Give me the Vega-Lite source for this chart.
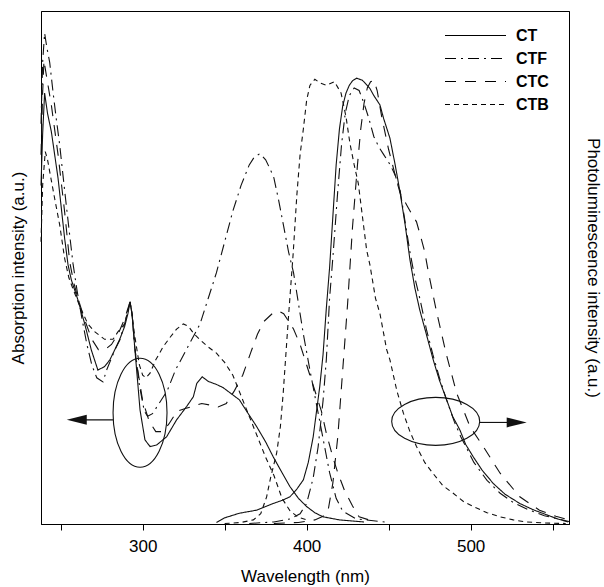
{
"$schema":"https://vega.github.io/schema/vega-lite/v6.json",
"width":528,"height":513,
"autosize":{"type":"none"},
"padding":{"left":41,"top":11,"right":35,"bottom":63},
"background":"white",
"config":{"font":"Liberation Sans","view":{"stroke":"#000","strokeWidth":1},
"axis":{"domainColor":"#000","tickColor":"#000","labelColor":"#000","titleColor":"#000","labelFontSize":17,"titleFontSize":17,"titleFontWeight":"normal","tickSize":6,"grid":false}},
"datasets":{
"abs":[
{"s":"CT","nm":238,"v":0.66},{"s":"CT","nm":239,"v":0.76},{"s":"CT","nm":240.2,"v":0.84},{"s":"CT","nm":242,"v":0.8},{"s":"CT","nm":244.3,"v":0.765},{"s":"CT","nm":248.4,"v":0.674},{"s":"CT","nm":252.4,"v":0.557},{"s":"CT","nm":254.5,"v":0.505},{"s":"CT","nm":256.5,"v":0.476},{"s":"CT","nm":260.5,"v":0.437},{"s":"CT","nm":264.6,"v":0.391},{"s":"CT","nm":268.7,"v":0.339},{"s":"CT","nm":272.7,"v":0.3},{"s":"CT","nm":276.8,"v":0.307},{"s":"CT","nm":280,"v":0.32},{"s":"CT","nm":282.9,"v":0.339},{"s":"CT","nm":286,"v":0.36},{"s":"CT","nm":289,"v":0.385},{"s":"CT","nm":291,"v":0.41},{"s":"CT","nm":292.3,"v":0.433},{"s":"CT","nm":293.5,"v":0.41},{"s":"CT","nm":295.3,"v":0.339},{"s":"CT","nm":298.4,"v":0.222},{"s":"CT","nm":301.4,"v":0.164},{"s":"CT","nm":304.5,"v":0.151},{"s":"CT","nm":308.5,"v":0.154},{"s":"CT","nm":314.6,"v":0.17},{"s":"CT","nm":320.7,"v":0.203},{"s":"CT","nm":326.8,"v":0.229},{"s":"CT","nm":330.9,"v":0.248},{"s":"CT","nm":333,"v":0.274},{"s":"CT","nm":336.3,"v":0.287},{"s":"CT","nm":340,"v":0.278},{"s":"CT","nm":345,"v":0.272},{"s":"CT","nm":349,"v":0.266},{"s":"CT","nm":354,"v":0.254},{"s":"CT","nm":359,"v":0.242},{"s":"CT","nm":364,"v":0.217},{"s":"CT","nm":369.5,"v":0.19},{"s":"CT","nm":375,"v":0.16},{"s":"CT","nm":379.6,"v":0.131},{"s":"CT","nm":385,"v":0.1},{"s":"CT","nm":389.8,"v":0.073},{"s":"CT","nm":395,"v":0.05},{"s":"CT","nm":400,"v":0.034},{"s":"CT","nm":405,"v":0.022},{"s":"CT","nm":410,"v":0.014},{"s":"CT","nm":420,"v":0.008},{"s":"CT","nm":435,"v":0.004},
{"s":"CTF","nm":238,"v":0.78},{"s":"CTF","nm":239,"v":0.9},{"s":"CTF","nm":240.2,"v":0.957},{"s":"CTF","nm":241.5,"v":0.93},{"s":"CTF","nm":243.3,"v":0.9},{"s":"CTF","nm":245.3,"v":0.843},{"s":"CTF","nm":247.3,"v":0.79},{"s":"CTF","nm":249.4,"v":0.739},{"s":"CTF","nm":251.4,"v":0.68},{"s":"CTF","nm":253.4,"v":0.622},{"s":"CTF","nm":255.5,"v":0.563},{"s":"CTF","nm":257.5,"v":0.508},{"s":"CTF","nm":260,"v":0.455},{"s":"CTF","nm":263,"v":0.4},{"s":"CTF","nm":266,"v":0.35},{"s":"CTF","nm":269,"v":0.31},{"s":"CTF","nm":272,"v":0.285},{"s":"CTF","nm":275.8,"v":0.277},{"s":"CTF","nm":278,"v":0.3},{"s":"CTF","nm":283,"v":0.339},{"s":"CTF","nm":286,"v":0.358},{"s":"CTF","nm":289,"v":0.39},{"s":"CTF","nm":292.3,"v":0.433},{"s":"CTF","nm":293.5,"v":0.41},{"s":"CTF","nm":295,"v":0.35},{"s":"CTF","nm":298,"v":0.27},{"s":"CTF","nm":301,"v":0.22},{"s":"CTF","nm":303,"v":0.21},{"s":"CTF","nm":306,"v":0.215},{"s":"CTF","nm":310,"v":0.235},{"s":"CTF","nm":315,"v":0.26},{"s":"CTF","nm":320,"v":0.3},{"s":"CTF","nm":325,"v":0.33},{"s":"CTF","nm":330,"v":0.36},{"s":"CTF","nm":335,"v":0.39},{"s":"CTF","nm":340,"v":0.44},{"s":"CTF","nm":345,"v":0.49},{"s":"CTF","nm":350,"v":0.55},{"s":"CTF","nm":355,"v":0.61},{"s":"CTF","nm":360,"v":0.66},{"s":"CTF","nm":365,"v":0.7},{"s":"CTF","nm":368,"v":0.715},{"s":"CTF","nm":371.5,"v":0.722},{"s":"CTF","nm":375,"v":0.71},{"s":"CTF","nm":378,"v":0.69},{"s":"CTF","nm":380,"v":0.675},{"s":"CTF","nm":383,"v":0.63},{"s":"CTF","nm":386,"v":0.58},{"s":"CTF","nm":389,"v":0.53},{"s":"CTF","nm":392,"v":0.49},{"s":"CTF","nm":395,"v":0.43},{"s":"CTF","nm":398,"v":0.37},{"s":"CTF","nm":402,"v":0.3},{"s":"CTF","nm":405,"v":0.25},{"s":"CTF","nm":408,"v":0.2},{"s":"CTF","nm":411,"v":0.15},{"s":"CTF","nm":414,"v":0.1},{"s":"CTF","nm":418,"v":0.05},{"s":"CTF","nm":422,"v":0.025},{"s":"CTF","nm":430,"v":0.01},{"s":"CTF","nm":450,"v":0.003},
{"s":"CTC","nm":238,"v":0.72},{"s":"CTC","nm":239,"v":0.84},{"s":"CTC","nm":239.8,"v":0.904},{"s":"CTC","nm":241.5,"v":0.87},{"s":"CTC","nm":244.3,"v":0.817},{"s":"CTC","nm":248.4,"v":0.72},{"s":"CTC","nm":252.4,"v":0.609},{"s":"CTC","nm":255.5,"v":0.511},{"s":"CTC","nm":258,"v":0.47},{"s":"CTC","nm":261,"v":0.435},{"s":"CTC","nm":265,"v":0.395},{"s":"CTC","nm":269,"v":0.36},{"s":"CTC","nm":273,"v":0.34},{"s":"CTC","nm":277,"v":0.34},{"s":"CTC","nm":281,"v":0.35},{"s":"CTC","nm":285,"v":0.37},{"s":"CTC","nm":289,"v":0.4},{"s":"CTC","nm":292.3,"v":0.433},{"s":"CTC","nm":293.5,"v":0.41},{"s":"CTC","nm":296,"v":0.32},{"s":"CTC","nm":300,"v":0.24},{"s":"CTC","nm":304,"v":0.2},{"s":"CTC","nm":308,"v":0.18},{"s":"CTC","nm":312,"v":0.18},{"s":"CTC","nm":316,"v":0.195},{"s":"CTC","nm":321,"v":0.22},{"s":"CTC","nm":326,"v":0.225},{"s":"CTC","nm":331,"v":0.23},{"s":"CTC","nm":336,"v":0.235},{"s":"CTC","nm":341,"v":0.232},{"s":"CTC","nm":346,"v":0.228},{"s":"CTC","nm":351,"v":0.235},{"s":"CTC","nm":356,"v":0.26},{"s":"CTC","nm":361,"v":0.29},{"s":"CTC","nm":366,"v":0.335},{"s":"CTC","nm":370,"v":0.37},{"s":"CTC","nm":374,"v":0.395},{"s":"CTC","nm":379,"v":0.41},{"s":"CTC","nm":383,"v":0.415},{"s":"CTC","nm":386,"v":0.41},{"s":"CTC","nm":388,"v":0.4},{"s":"CTC","nm":392,"v":0.38},{"s":"CTC","nm":396,"v":0.35},{"s":"CTC","nm":400,"v":0.31},{"s":"CTC","nm":403,"v":0.28},{"s":"CTC","nm":406,"v":0.25},{"s":"CTC","nm":409,"v":0.22},{"s":"CTC","nm":412,"v":0.177},{"s":"CTC","nm":416,"v":0.13},{"s":"CTC","nm":419,"v":0.1},{"s":"CTC","nm":423,"v":0.066},{"s":"CTC","nm":428,"v":0.035},{"s":"CTC","nm":432,"v":0.014},{"s":"CTC","nm":440,"v":0.006},
{"s":"CTB","nm":238,"v":0.55},{"s":"CTB","nm":239,"v":0.66},{"s":"CTB","nm":240.6,"v":0.726},{"s":"CTB","nm":242,"v":0.71},{"s":"CTB","nm":243.3,"v":0.687},{"s":"CTB","nm":246.3,"v":0.635},{"s":"CTB","nm":249.4,"v":0.583},{"s":"CTB","nm":252.4,"v":0.518},{"s":"CTB","nm":255,"v":0.48},{"s":"CTB","nm":258.5,"v":0.45},{"s":"CTB","nm":262.6,"v":0.417},{"s":"CTB","nm":266.6,"v":0.39},{"s":"CTB","nm":270.7,"v":0.375},{"s":"CTB","nm":276.8,"v":0.36},{"s":"CTB","nm":281.9,"v":0.36},{"s":"CTB","nm":285,"v":0.375},{"s":"CTB","nm":289,"v":0.39},{"s":"CTB","nm":292.3,"v":0.433},{"s":"CTB","nm":293.5,"v":0.41},{"s":"CTB","nm":295,"v":0.37},{"s":"CTB","nm":298,"v":0.31},{"s":"CTB","nm":300,"v":0.29},{"s":"CTB","nm":302,"v":0.285},{"s":"CTB","nm":304.5,"v":0.294},{"s":"CTB","nm":308,"v":0.32},{"s":"CTB","nm":312.6,"v":0.346},{"s":"CTB","nm":317,"v":0.365},{"s":"CTB","nm":320.7,"v":0.38},{"s":"CTB","nm":324.8,"v":0.39},{"s":"CTB","nm":328,"v":0.385},{"s":"CTB","nm":331,"v":0.372},{"s":"CTB","nm":335,"v":0.359},{"s":"CTB","nm":340,"v":0.345},{"s":"CTB","nm":345,"v":0.333},{"s":"CTB","nm":350,"v":0.315},{"s":"CTB","nm":355,"v":0.29},{"s":"CTB","nm":360,"v":0.25},{"s":"CTB","nm":365,"v":0.21},{"s":"CTB","nm":370,"v":0.17},{"s":"CTB","nm":375,"v":0.13},{"s":"CTB","nm":380,"v":0.095},{"s":"CTB","nm":385,"v":0.05},{"s":"CTB","nm":390,"v":0.025},{"s":"CTB","nm":395,"v":0.013},{"s":"CTB","nm":400,"v":0.008}
],
"pl":[
{"s":"CT","nm":345,"v":0.003},{"s":"CT","nm":350,"v":0.012},{"s":"CT","nm":359,"v":0.021},{"s":"CT","nm":369.5,"v":0.027},{"s":"CT","nm":379.6,"v":0.04},{"s":"CT","nm":385,"v":0.046},{"s":"CT","nm":389.8,"v":0.053},{"s":"CT","nm":394,"v":0.068},{"s":"CT","nm":398,"v":0.086},{"s":"CT","nm":401,"v":0.12},{"s":"CT","nm":404,"v":0.17},{"s":"CT","nm":408,"v":0.268},{"s":"CT","nm":410,"v":0.33},{"s":"CT","nm":412,"v":0.42},{"s":"CT","nm":414,"v":0.5},{"s":"CT","nm":416,"v":0.6},{"s":"CT","nm":418,"v":0.7},{"s":"CT","nm":420,"v":0.77},{"s":"CT","nm":422,"v":0.815},{"s":"CT","nm":424,"v":0.84},{"s":"CT","nm":426,"v":0.855},{"s":"CT","nm":428,"v":0.864},{"s":"CT","nm":430.5,"v":0.869},{"s":"CT","nm":434,"v":0.865},{"s":"CT","nm":438.6,"v":0.849},{"s":"CT","nm":441,"v":0.835},{"s":"CT","nm":444.7,"v":0.817},{"s":"CT","nm":447,"v":0.79},{"s":"CT","nm":450.8,"v":0.752},{"s":"CT","nm":454,"v":0.7},{"s":"CT","nm":456.9,"v":0.648},{"s":"CT","nm":460,"v":0.585},{"s":"CT","nm":463,"v":0.515},{"s":"CT","nm":466,"v":0.46},{"s":"CT","nm":469,"v":0.417},{"s":"CT","nm":473,"v":0.37},{"s":"CT","nm":477.2,"v":0.32},{"s":"CT","nm":481,"v":0.28},{"s":"CT","nm":485.4,"v":0.242},{"s":"CT","nm":489,"v":0.21},{"s":"CT","nm":493.5,"v":0.183},{"s":"CT","nm":497,"v":0.155},{"s":"CT","nm":501.6,"v":0.131},{"s":"CT","nm":507,"v":0.105},{"s":"CT","nm":513.8,"v":0.079},{"s":"CT","nm":521,"v":0.058},{"s":"CT","nm":530,"v":0.04},{"s":"CT","nm":538,"v":0.028},{"s":"CT","nm":546.3,"v":0.018},{"s":"CT","nm":553,"v":0.01},{"s":"CT","nm":559.5,"v":0.004},
{"s":"CTF","nm":365,"v":0.001},{"s":"CTF","nm":380,"v":0.004},{"s":"CTF","nm":390,"v":0.01},{"s":"CTF","nm":396,"v":0.02},{"s":"CTF","nm":400,"v":0.04},{"s":"CTF","nm":404,"v":0.09},{"s":"CTF","nm":407,"v":0.15},{"s":"CTF","nm":410,"v":0.24},{"s":"CTF","nm":412,"v":0.32},{"s":"CTF","nm":414,"v":0.44},{"s":"CTF","nm":416,"v":0.52},{"s":"CTF","nm":419,"v":0.65},{"s":"CTF","nm":421.3,"v":0.74},{"s":"CTF","nm":423.5,"v":0.8},{"s":"CTF","nm":426,"v":0.835},{"s":"CTF","nm":429,"v":0.85},{"s":"CTF","nm":432,"v":0.845},{"s":"CTF","nm":435,"v":0.82},{"s":"CTF","nm":438,"v":0.79},{"s":"CTF","nm":441,"v":0.755},{"s":"CTF","nm":444,"v":0.735},{"s":"CTF","nm":447,"v":0.72},{"s":"CTF","nm":451,"v":0.7},{"s":"CTF","nm":454,"v":0.68},{"s":"CTF","nm":457,"v":0.65},{"s":"CTF","nm":460,"v":0.59},{"s":"CTF","nm":463,"v":0.53},{"s":"CTF","nm":466,"v":0.48},{"s":"CTF","nm":469,"v":0.44},{"s":"CTF","nm":473,"v":0.38},{"s":"CTF","nm":477,"v":0.33},{"s":"CTF","nm":481,"v":0.285},{"s":"CTF","nm":485,"v":0.245},{"s":"CTF","nm":490,"v":0.2},{"s":"CTF","nm":494,"v":0.17},{"s":"CTF","nm":502,"v":0.12},{"s":"CTF","nm":510,"v":0.085},{"s":"CTF","nm":518,"v":0.06},{"s":"CTF","nm":526,"v":0.042},{"s":"CTF","nm":535,"v":0.028},{"s":"CTF","nm":545,"v":0.016},{"s":"CTF","nm":560,"v":0.005},
{"s":"CTC","nm":380,"v":0.001},{"s":"CTC","nm":395,"v":0.003},{"s":"CTC","nm":405,"v":0.008},{"s":"CTC","nm":410,"v":0.015},{"s":"CTC","nm":413,"v":0.025},{"s":"CTC","nm":416,"v":0.08},{"s":"CTC","nm":419,"v":0.17},{"s":"CTC","nm":422,"v":0.3},{"s":"CTC","nm":425,"v":0.43},{"s":"CTC","nm":428,"v":0.58},{"s":"CTC","nm":431,"v":0.7},{"s":"CTC","nm":433,"v":0.77},{"s":"CTC","nm":435,"v":0.82},{"s":"CTC","nm":437,"v":0.85},{"s":"CTC","nm":439,"v":0.862},{"s":"CTC","nm":441,"v":0.865},{"s":"CTC","nm":443,"v":0.845},{"s":"CTC","nm":446,"v":0.79},{"s":"CTC","nm":450,"v":0.73},{"s":"CTC","nm":454,"v":0.68},{"s":"CTC","nm":457,"v":0.645},{"s":"CTC","nm":461,"v":0.622},{"s":"CTC","nm":464,"v":0.605},{"s":"CTC","nm":467,"v":0.589},{"s":"CTC","nm":470,"v":0.555},{"s":"CTC","nm":472,"v":0.531},{"s":"CTC","nm":474,"v":0.495},{"s":"CTC","nm":479,"v":0.417},{"s":"CTC","nm":485,"v":0.333},{"s":"CTC","nm":491.5,"v":0.255},{"s":"CTC","nm":499.6,"v":0.19},{"s":"CTC","nm":507.7,"v":0.151},{"s":"CTC","nm":518,"v":0.099},{"s":"CTC","nm":530,"v":0.053},{"s":"CTC","nm":542,"v":0.027},{"s":"CTC","nm":552,"v":0.015},{"s":"CTC","nm":560,"v":0.008},
{"s":"CTB","nm":350,"v":0.001},{"s":"CTB","nm":360,"v":0.003},{"s":"CTB","nm":367.5,"v":0.008},{"s":"CTB","nm":372,"v":0.02},{"s":"CTB","nm":375.6,"v":0.053},{"s":"CTB","nm":378,"v":0.09},{"s":"CTB","nm":381.7,"v":0.138},{"s":"CTB","nm":384,"v":0.19},{"s":"CTB","nm":385.7,"v":0.255},{"s":"CTB","nm":388.8,"v":0.398},{"s":"CTB","nm":391.8,"v":0.528},{"s":"CTB","nm":394,"v":0.64},{"s":"CTB","nm":396,"v":0.72},{"s":"CTB","nm":398,"v":0.77},{"s":"CTB","nm":400,"v":0.826},{"s":"CTB","nm":402,"v":0.855},{"s":"CTB","nm":405,"v":0.867},{"s":"CTB","nm":408,"v":0.86},{"s":"CTB","nm":412,"v":0.855},{"s":"CTB","nm":417,"v":0.862},{"s":"CTB","nm":421,"v":0.84},{"s":"CTB","nm":424,"v":0.794},{"s":"CTB","nm":426.4,"v":0.742},{"s":"CTB","nm":429,"v":0.7},{"s":"CTB","nm":431.5,"v":0.664},{"s":"CTB","nm":434,"v":0.6},{"s":"CTB","nm":436.6,"v":0.534},{"s":"CTB","nm":438.6,"v":0.505},{"s":"CTB","nm":442,"v":0.44},{"s":"CTB","nm":444.7,"v":0.41},{"s":"CTB","nm":448.8,"v":0.34},{"s":"CTB","nm":450.8,"v":0.32},{"s":"CTB","nm":455,"v":0.26},{"s":"CTB","nm":459,"v":0.216},{"s":"CTB","nm":463,"v":0.18},{"s":"CTB","nm":467,"v":0.151},{"s":"CTB","nm":472,"v":0.12},{"s":"CTB","nm":477,"v":0.099},{"s":"CTB","nm":483,"v":0.075},{"s":"CTB","nm":489.4,"v":0.06},{"s":"CTB","nm":496,"v":0.043},{"s":"CTB","nm":503.7,"v":0.031},{"s":"CTB","nm":510,"v":0.022},{"s":"CTB","nm":518,"v":0.014},{"s":"CTB","nm":526,"v":0.008},{"s":"CTB","nm":534,"v":0.004},{"s":"CTB","nm":545,"v":0.002},{"s":"CTB","nm":558,"v":0.001}
],
"ellL":[{"nm":298.4,"v":0.217}],
"ellR":[{"nm":478.7,"v":0.2}],
"arrL":[{"nm":258,"nm2":281.9,"v":0.203}],
"headL":[{"nm":259.8,"v":0.203}],
"arrR":[{"nm":505.7,"nm2":524,"v":0.198}],
"headR":[{"nm":528.1,"v":0.198}]
},
"layer":[
{
"encoding":{
"x":{"field":"nm","type":"quantitative","scale":{"domain":[238,560],"nice":false,"zero":false},"axis":{"title":"Wavelength (nm)","values":[250,300,350,400,450,500,550],"labelExpr":"datum.value % 100 === 0 ? datum.label : ''","labelPadding":8,"titlePadding":14,"domainColor":"#000"}},
"y":{"field":"v","type":"quantitative","scale":{"domain":[0,1],"nice":false,"zero":false},"axis":{"orient":"left","title":"Absorption intensity (a.u.)","labels":false,"ticks":false,"titlePadding":14}}
},
"layer":[
{"data":{"name":"abs"},"mark":{"type":"line","color":"#111","strokeWidth":1.1},
"encoding":{"strokeDash":{"field":"s","type":"nominal","scale":{"domain":["CT","CTF","CTC","CTB"],"range":[[1,0],[11,5,2,5],[11,9],[5,4]]},"legend":{"title":null,"orient":"none","legendX":403,"legendY":13,"symbolType":"stroke","symbolSize":3721,"symbolStrokeWidth":1.1,"symbolStrokeColor":"#000","labelFontSize":16,"labelFontWeight":"bold","labelColor":"#000","labelOffset":9,"clipHeight":23,"rowPadding":0,"padding":0}}}},
{"data":{"name":"ellL"},"mark":{"type":"point","shape":"M0.495,0C0.495,0.5523,0.2734,1,0,1C-0.2734,1,-0.495,0.5523,-0.495,0C-0.495,-0.5523,-0.2734,-1,0,-1C0.2734,-1,0.495,-0.5523,0.495,0Z","size":11881,"filled":false,"stroke":"#111","strokeWidth":1.1,"opacity":1}},
{"data":{"name":"ellR"},"mark":{"type":"point","shape":"M1,0C1,0.301,0.5523,0.545,0,0.545C-0.5523,0.545,-1,0.301,-1,0C-1,-0.301,-0.5523,-0.545,0,-0.545C0.5523,-0.545,1,-0.301,1,0Z","size":7744,"filled":false,"stroke":"#111","strokeWidth":1.1,"opacity":1}},
{"data":{"name":"arrL"},"mark":{"type":"rule","color":"#111","strokeWidth":1.1},"encoding":{"x2":{"field":"nm2"}}},
{"data":{"name":"arrR"},"mark":{"type":"rule","color":"#111","strokeWidth":1.1},"encoding":{"x2":{"field":"nm2"}}},
{"data":{"name":"headL"},"mark":{"type":"point","shape":"M-1,0L1,-0.5L1,0.5Z","size":400,"filled":true,"color":"#111","opacity":1}},
{"data":{"name":"headR"},"mark":{"type":"point","shape":"M1,0L-1,-0.5L-1,0.5Z","size":400,"filled":true,"color":"#111","opacity":1}}
]
},
{
"data":{"name":"pl"},
"mark":{"type":"line","color":"#111","strokeWidth":1.1},
"encoding":{
"x":{"field":"nm","type":"quantitative","scale":{"domain":[238,560],"nice":false,"zero":false},"axis":{"title":"Wavelength (nm)","values":[250,300,350,400,450,500,550],"labelExpr":"datum.value % 100 === 0 ? datum.label : ''","labelPadding":8,"titlePadding":14,"domainColor":"#000"}},
"y":{"field":"v","type":"quantitative","scale":{"domain":[0,1],"nice":false,"zero":false},"axis":{"orient":"right","title":"Photoluminescence intensity (a.u.)","labels":false,"ticks":false,"titlePadding":14}},
"strokeDash":{"field":"s","type":"nominal","scale":{"domain":["CT","CTF","CTC","CTB"],"range":[[1,0],[11,5,2,5],[11,9],[5,4]]},"legend":{"title":null,"orient":"none","legendX":403,"legendY":13,"symbolType":"stroke","symbolSize":3721,"symbolStrokeWidth":1.1,"symbolStrokeColor":"#000","labelFontSize":16,"labelFontWeight":"bold","labelColor":"#000","labelOffset":9,"clipHeight":23,"rowPadding":0,"padding":0}}
}
}
],
"resolve":{"scale":{"y":"independent"}}
}
